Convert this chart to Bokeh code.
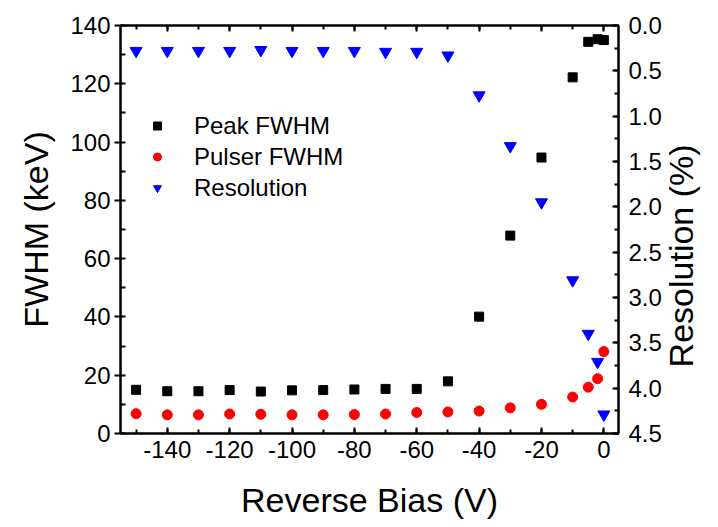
import math
from bokeh.plotting import figure
from bokeh.models import (Range1d, LinearAxis, SingleIntervalTicker, Legend, LegendItem,
                          NumeralTickFormatter)
from bokeh.embed import file_html
from bokeh.resources import INLINE

# ---- data ----
bias = [-150, -140, -130, -120, -110, -100, -90, -80, -70, -60, -50, -40, -30, -20, -10, -5, -2, 0]
peak_fwhm = [15.0, 14.5, 14.5, 14.9, 14.4, 14.8, 14.9, 15.1, 15.3, 15.3, 17.9, 40.1, 67.9, 94.7, 122.2, 134.4, 135.3, 135.0]
pulser_fwhm = [6.8, 6.4, 6.4, 6.7, 6.6, 6.4, 6.4, 6.5, 6.7, 7.2, 7.4, 7.7, 8.8, 10.0, 12.5, 15.9, 18.8, 28.1]
resolution = [0.28, 0.28, 0.28, 0.28, 0.27, 0.28, 0.28, 0.28, 0.29, 0.29, 0.33, 0.77, 1.33, 1.95, 2.81, 3.40, 3.71, 4.29]

x_title = "Reverse Bias (V)"
y_title = "FWHM (keV)"
y2_title = "Resolution (%)"
series_names = ["Peak FWHM", "Pulser FWHM", "Resolution"]

FONT = "Liberation Sans"
TICK_FS = "24px"
LABEL_FS = "34px"

p = figure(width=718, height=511, output_backend="svg", toolbar_location=None,
           x_range=Range1d(-155, 4.7), y_range=Range1d(0, 140),
           min_border_left=120, min_border_right=100, min_border_top=25, min_border_bottom=78,
           frame_width=498, frame_height=408,
           background_fill_color="white", border_fill_color="white")
p.grid.visible = False
p.outline_line_color = "black"
p.outline_line_width = 2

p.extra_y_ranges = {"res": Range1d(4.5, 0)}

def style_axis(ax, tin, tout, minin, labels=True):
    ax.axis_line_width = 2
    ax.axis_line_color = "black"
    ax.major_tick_line_width = 2
    ax.minor_tick_line_width = 2
    ax.major_tick_in = tin
    ax.major_tick_out = tout
    ax.minor_tick_in = minin
    ax.minor_tick_out = 0
    ax.major_label_text_font = FONT
    ax.major_label_text_font_size = TICK_FS if labels else "0px"
    ax.major_label_text_color = "black"
    ax.axis_label_text_font = FONT
    ax.axis_label_text_font_size = LABEL_FS
    ax.axis_label_text_font_style = "normal"
    ax.axis_label_text_color = "black"

# bottom axis
xa = p.xaxis[0]
xa.ticker = SingleIntervalTicker(interval=20, num_minor_ticks=2)
xa.formatter = NumeralTickFormatter(format="0")
style_axis(xa, 6, 0, 4)
xa.major_label_standoff = 7
xa.axis_label = x_title
xa.axis_label_standoff = 20

# left axis
ya = p.yaxis[0]
ya.ticker = SingleIntervalTicker(interval=20, num_minor_ticks=2)
ya.formatter = NumeralTickFormatter(format="0")
style_axis(ya, 0, 6, 5)
ya.major_label_standoff = 4
ya.axis_label = y_title
ya.axis_label_standoff = 12

# top axis (ticks only)
top = LinearAxis(ticker=SingleIntervalTicker(interval=20, num_minor_ticks=2))
style_axis(top, 6, 0, 4, labels=False)
top.major_label_standoff = 0
p.add_layout(top, "above")

# right axis (Resolution, inverted), title reading bottom-to-top
ra = LinearAxis(y_range_name="res", ticker=SingleIntervalTicker(interval=0.5, num_minor_ticks=2),
                formatter=NumeralTickFormatter(format="0.0"))
style_axis(ra, 6, 0, 4)
ra.major_label_standoff = 10
ra.axis_label_standoff = 16
props = ra.properties()
if "axis_label_orientation" in props and "axis_label_align" in props:
    ra.axis_label_orientation = math.pi / 2
    ra.axis_label_align = "end"
    ra.axis_label = "\u00a0" * 7 + y2_title
else:
    ra.axis_label = y2_title
p.add_layout(ra, "right")

r1 = p.scatter(bias, peak_fwhm, marker="square", size=9, color="black")
r2 = p.scatter(bias, pulser_fwhm, marker="circle", size=10, color="red")
r3 = p.scatter(bias, resolution, marker="inverted_triangle", size=12, color="blue",
               y_range_name="res")

legend = Legend(items=[LegendItem(label=series_names[0], renderers=[r1]),
                       LegendItem(label=series_names[1], renderers=[r2]),
                       LegendItem(label=series_names[2], renderers=[r3])],
                location=(27, 230), padding=0, margin=0, spacing=0,
                border_line_color=None, background_fill_alpha=0,
                glyph_width=20, glyph_height=31, label_height=31,
                label_standoff=27, label_text_font=FONT, label_text_font_size=TICK_FS,
                label_text_color="black")
p.add_layout(legend, "center")

open("out.html", "w").write(file_html(p, INLINE))
